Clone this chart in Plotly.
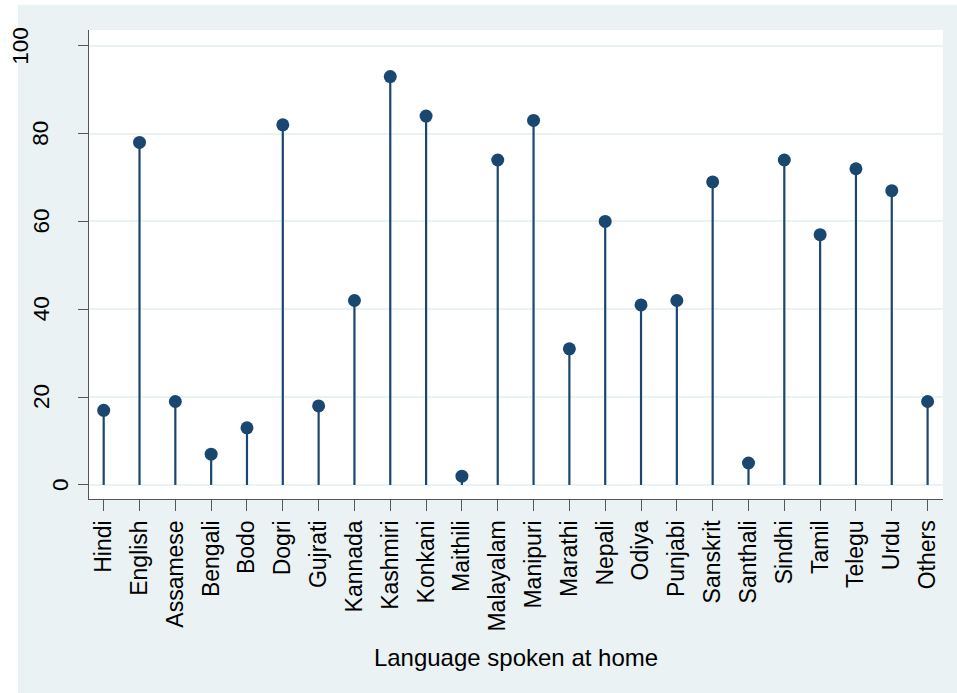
import plotly.graph_objects as go

# Share (%) of respondents by language spoken at home
languages = ["Hindi", "English", "Assamese", "Bengali", "Bodo", "Dogri", "Gujrati",
             "Kannada", "Kashmiri", "Konkani", "Maithili", "Malayalam", "Manipuri",
             "Marathi", "Nepali", "Odiya", "Punjabi", "Sanskrit", "Santhali",
             "Sindhi", "Tamil", "Telegu", "Urdu", "Others"]
values = [17, 78, 19, 7, 13, 82, 18, 42, 93, 84, 2, 74, 83, 31, 60, 41, 42,
          69, 5, 74, 57, 72, 67, 19]
y_ticks = [0, 20, 40, 60, 80, 100]

NAVY = "#1a476f"
BG = "#eaf2f3"
AXIS = "#555555"
FONT = "Liberation Sans, Arial, sans-serif"

positions = list(range(len(languages)))

# stems: one vertical segment per category, from 0 up to its value
stem_x, stem_y = [], []
for p, v in zip(positions, values):
    stem_x += [p, p, None]
    stem_y += [0, v, None]

fig = go.Figure()
fig.add_trace(go.Scatter(x=stem_x, y=stem_y, mode="lines",
                         line=dict(color=NAVY, width=2.2),
                         hoverinfo="skip", showlegend=False))
fig.add_trace(go.Scatter(x=positions, y=values, mode="markers",
                         marker=dict(color=NAVY, size=13, line=dict(width=0)),
                         text=languages, showlegend=False))

# vertical y-axis labels, set further left the longer they are
y_labels = []
for t in y_ticks:
    s = str(t)
    y_labels.append(dict(
        text=s, xref="paper", yref="y", x=0, y=t,
        xanchor="center", yanchor="middle", textangle=-90,
        xshift=-8 - 20 * len(s), showarrow=False,
        font=dict(size=22.5, color="black", family=FONT),
    ))

fig.update_layout(
    width=957, height=693,
    margin=dict(l=89, r=14, t=30, b=194, pad=0),
    paper_bgcolor="white",
    plot_bgcolor="white",
    font=dict(family=FONT, color="black"),
    annotations=y_labels,
    shapes=[
        # light graph region surrounding the plot area
        dict(type="rect", xref="paper", yref="paper", layer="below",
             x0=-0.0831, x1=1.1, y0=-0.6, y1=1.0533,
             fillcolor=BG, line=dict(width=0)),
        # white plot area
        dict(type="rect", xref="x domain", yref="y domain", layer="below",
             x0=0, x1=1, y0=0, y1=1,
             fillcolor="white", line=dict(width=0)),
    ],
)

fig.update_xaxes(
    range=[-0.41, 23.43],
    tickmode="array", tickvals=positions, ticktext=languages,
    tickangle=-90, tickfont=dict(size=23),
    ticks="outside", ticklen=11, tickwidth=1.3, tickcolor=AXIS,
    showline=True, linecolor=AXIS, linewidth=1.3,
    showgrid=False, zeroline=False, automargin=False,
    title=dict(text="Language spoken at home", font=dict(size=24), standoff=18),
)
fig.update_yaxes(
    range=[-3.2, 103.6],
    tickmode="array", tickvals=y_ticks, showticklabels=False,
    ticks="outside", ticklen=10, tickwidth=1.3, tickcolor=AXIS,
    showline=True, linecolor=AXIS, linewidth=1.3,
    showgrid=True, gridcolor=BG, gridwidth=2,
    zeroline=False, automargin=False,
)

fig.write_html("out.html")
